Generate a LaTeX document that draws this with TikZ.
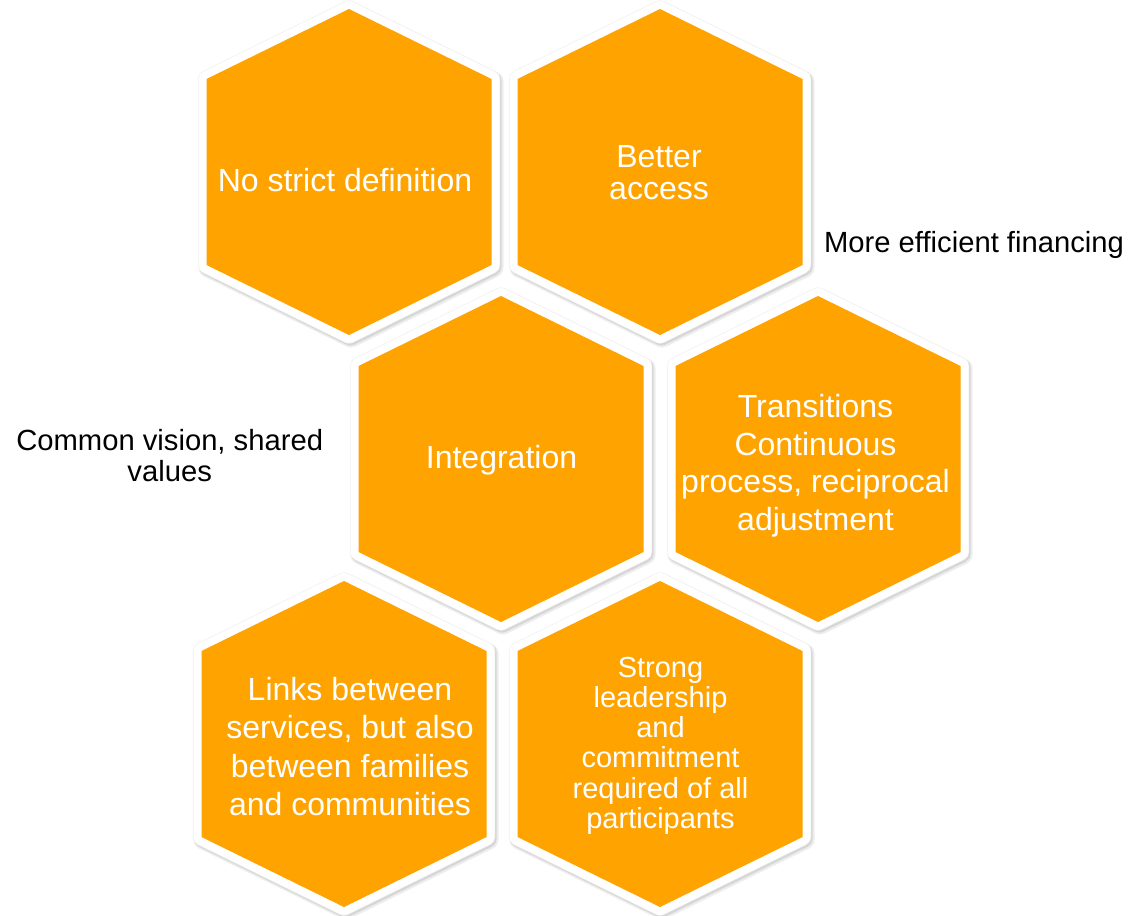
\documentclass[tikz,border=0pt]{standalone}
\usepackage{fontspec}
\setmainfont{Liberation Sans}
\definecolor{hexorange}{RGB}{255,163,0}
\newcommand\stacklines[1]{\vtop{\halign{\hfil##\hfil\cr#1\crcr}}}
\tikzset{
  hexp/.style={insert path={++(0,-163) -- ++(142.5,70) -- ++(0,186) -- ++(-142.5,70) -- ++(-142.5,-70) -- ++(0,-186) -- cycle}},
  shadowa/.style={draw=black!7, line width=20pt, line join=round},
  shadowb/.style={draw=black!16, line width=17.5pt, line join=round},
  shadowc/.style={draw=black!6, line width=17.4pt, line join=round},
  hexrim/.style={draw=white, line width=16pt, line join=round},
  hexfill/.style={fill=hexorange},
  hextext/.style={text=white, inner sep=0pt, anchor=base},
  sidetext/.style={text=black, inner sep=0pt, anchor=base, font=\fontsize{29.2pt}{30.7pt}\selectfont},
}
\begin{document}
\begin{tikzpicture}[x=1pt,y=-1pt]
\useasboundingbox (0,0) rectangle (1141,916);
\coordinate (h1) at (349,172);
\coordinate (h2) at (660,172);
\coordinate (h3) at (501,459);
\coordinate (h4) at (818,459);
\coordinate (h5) at (344,744);
\coordinate (h6) at (660,744);
\foreach \c in {h1,h2,h3,h4,h5,h6}{
  \path[shadowa] ([shift={(2,2.5)}]\c) [hexp];
}
\foreach \c in {h1,h2,h3,h4,h5,h6}{
  \path[shadowb] ([shift={(1.4,1.8)}]\c) [hexp];
  \path[shadowc] (\c) [hexp];
}
\foreach \c in {h1,h2,h3,h4,h5,h6}{
  \path[hexrim] (\c) [hexp];
  \path[hexfill] (\c) [hexp];
}
\node[hextext, font=\fontsize{32pt}{38pt}\selectfont] (t1) at (345,191) {No strict definition};
\node[hextext, font=\fontsize{32pt}{32.5pt}\selectfont] (t2) at (659,167) {\stacklines{Better\cr access}};
\node[hextext, font=\fontsize{32pt}{38pt}\selectfont] (t3) at (501.5,468) {Integration};
\node[hextext, font=\fontsize{32pt}{37.8pt}\selectfont] (t4) at (815.5,417.3) {\stacklines{Transitions\cr Continuous\cr process, reciprocal\cr adjustment}};
\node[hextext, font=\fontsize{32pt}{38.5pt}\selectfont] (t5) at (350,700) {\stacklines{Links between\cr services, but also\cr between families\cr and communities}};
\node[hextext, font=\fontsize{29pt}{30.2pt}\selectfont] (t6) at (660.5,677.3) {\stacklines{Strong\cr leadership\cr and\cr commitment\cr required of all\cr participants}};
\node[sidetext] (t7) at (974,252.5) {More efficient financing};
\node[sidetext] (t8) at (169.7,450.3) {\stacklines{Common vision, shared\cr values}};
\end{tikzpicture}
\end{document}
